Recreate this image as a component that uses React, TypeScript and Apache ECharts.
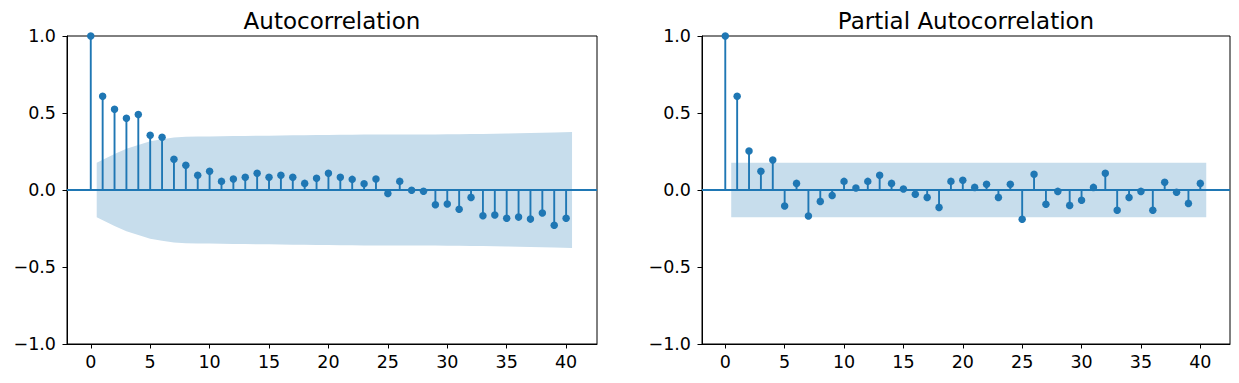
import React, { useEffect, useRef } from "react";
import * as echarts from "echarts";

const lags = [
  0, 1, 2, 3, 4, 5, 6, 7, 8, 9, 10, 11, 12, 13, 14, 15, 16, 17, 18, 19, 20,
  21, 22, 23, 24, 25, 26, 27, 28, 29, 30, 31, 32, 33, 34, 35, 36, 37, 38, 39, 40,
];

const acfValues = [
  1.0, 0.608, 0.524, 0.466, 0.49, 0.355, 0.342, 0.199, 0.16, 0.095, 0.121,
  0.056, 0.071, 0.082, 0.108, 0.082, 0.095, 0.082, 0.043, 0.076, 0.108,
  0.082, 0.069, 0.041, 0.071, -0.022, 0.056, -0.002, -0.008, -0.096, -0.091,
  -0.125, -0.048, -0.167, -0.162, -0.183, -0.176, -0.189, -0.149, -0.229, -0.184,
];

// confidence half-width for lags 1..40
const acfBand = [
  0.177, 0.234, 0.268, 0.293, 0.317, 0.33, 0.341, 0.345, 0.347, 0.348, 0.349,
  0.35, 0.351, 0.352, 0.353, 0.354, 0.355, 0.356, 0.357, 0.357, 0.358, 0.359,
  0.36, 0.36, 0.361, 0.361, 0.361, 0.361, 0.361, 0.362, 0.362, 0.363, 0.363,
  0.365, 0.367, 0.369, 0.37, 0.372, 0.374, 0.377,
];

const pacfValues = [
  1.0, 0.608, 0.253, 0.121, 0.195, -0.104, 0.043, -0.169, -0.074, -0.035,
  0.056, 0.013, 0.056, 0.095, 0.043, 0.006, -0.028, -0.048, -0.113, 0.056,
  0.063, 0.017, 0.037, -0.048, 0.037, -0.19, 0.102, -0.093, -0.009, -0.1,
  -0.067, 0.017, 0.108, -0.132, -0.048, -0.009, -0.132, 0.05, -0.015, -0.087, 0.043,
];

const pacfBand = [
  0.177, 0.177, 0.177, 0.177, 0.177, 0.177, 0.177, 0.177, 0.177, 0.177,
  0.177, 0.177, 0.177, 0.177, 0.177, 0.177, 0.177, 0.177, 0.177, 0.177,
  0.177, 0.177, 0.177, 0.177, 0.177, 0.177, 0.177, 0.177, 0.177, 0.177,
  0.177, 0.177, 0.177, 0.177, 0.177, 0.177, 0.177, 0.177, 0.177, 0.177,
];

const xTickValues = [0, 5, 10, 15, 20, 25, 30, 35, 40];
const yTickValues = [-1, -0.5, 0, 0.5, 1];
const titles = ["Autocorrelation", "Partial Autocorrelation"];

const BLUE = "#1f77b4";
const BAND = "#c7ddec";
const FONT = "DejaVu Sans";

function bandX(): number[] {
  const xs = lags.slice(1).map((v) => v);
  xs[0] -= 0.5;
  xs[xs.length - 1] += 0.5;
  return xs;
}

export default function App() {
  const ref = useRef<HTMLDivElement>(null);

  useEffect(() => {
    if (!ref.current) return;
    const chart = echarts.init(ref.current, undefined, { renderer: "svg" });

    const grids = [
      { left: 67, top: 36, width: 530, height: 308 },
      { left: 702, top: 36, width: 528, height: 308 },
    ];
    const xRanges = [
      [-2.0, 42.6],
      [-1.96, 42.5],
    ];
    const datasets = [
      { values: acfValues, band: acfBand },
      { values: pacfValues, band: pacfBand },
    ];
    const bx = bandX();

    const xAxis: any[] = [];
    const yAxis: any[] = [];
    const series: any[] = [];

    [0, 1].forEach((i) => {
      xAxis.push({
        type: "value",
        gridIndex: i,
        min: xRanges[i][0],
        max: xRanges[i][1],
        axisLine: { show: true, onZero: false, lineStyle: { color: "#000", width: 1 } },
        axisTick: {
          show: true,
          length: 4.5,
          lineStyle: { color: "#000", width: 1 },
          customValues: xTickValues,
        },
        axisLabel: {
          show: true,
          customValues: xTickValues,
          color: "#000",
          fontSize: 17.5,
          fontFamily: FONT,
          margin: 9,
        },
        splitLine: { show: false },
      });
      yAxis.push({
        type: "value",
        gridIndex: i,
        min: yTickValues[0],
        max: yTickValues[yTickValues.length - 1],
        interval: 0.5,
        axisLine: { show: true, onZero: false, lineStyle: { color: "#000", width: 1 } },
        axisTick: { show: true, length: 4.5, lineStyle: { color: "#000", width: 1 } },
        axisLabel: {
          show: true,
          color: "#000",
          fontSize: 17.5,
          fontFamily: FONT,
          margin: 11,
          formatter: (v: number) => v.toFixed(1).replace("-", "\u2212"),
        },
        splitLine: { show: false },
      });

      const d = datasets[i];
      // confidence band
      series.push({
        type: "custom",
        xAxisIndex: i,
        yAxisIndex: i,
        silent: true,
        z: 1,
        data: [[bx[0], 0]],
        renderItem: (params: any, api: any) => {
          const pts: number[][] = [];
          for (let k = 0; k < bx.length; k++) pts.push(api.coord([bx[k], d.band[k]]));
          for (let k = bx.length - 1; k >= 0; k--) pts.push(api.coord([bx[k], -d.band[k]]));
          return {
            type: "polygon",
            shape: { points: pts },
            style: { fill: BAND, stroke: "none" },
          };
        },
      });
      // stems
      series.push({
        type: "custom",
        xAxisIndex: i,
        yAxisIndex: i,
        silent: true,
        z: 2,
        clip: true,
        data: lags.map((l, k) => [l, d.values[k]]),
        renderItem: (params: any, api: any) => {
          const x = api.value(0);
          const y = api.value(1);
          const p0 = api.coord([x, 0]);
          const p1 = api.coord([x, y]);
          return {
            type: "line",
            shape: { x1: p0[0], y1: p0[1], x2: p1[0], y2: p1[1] },
            style: { stroke: BLUE, lineWidth: 1.9 },
          };
        },
      });
      // markers + zero line
      series.push({
        type: "scatter",
        xAxisIndex: i,
        yAxisIndex: i,
        silent: true,
        z: 3,
        clip: true,
        symbol: "circle",
        symbolSize: 7.5,
        itemStyle: { color: BLUE, opacity: 1 },
        data: lags.map((l, k) => [l, d.values[k]]),
        markLine: {
          silent: true,
          symbol: ["none", "none"],
          label: { show: false },
          lineStyle: { color: BLUE, width: 1.9, type: "solid" },
          data: [{ yAxis: 0 }],
          animation: false,
        },
      });
    });

    chart.setOption({
      animation: false,
      grid: grids.map((g) => ({
        ...g,
        show: true,
        borderColor: "#000",
        borderWidth: 1,
        backgroundColor: "transparent",
        containLabel: false,
      })),
      xAxis,
      yAxis,
      series,
      graphic: [
        {
          type: "text",
          x: 332,
          y: 21,
          style: {
            text: titles[0],
            fontSize: 23,
            fontFamily: FONT,
            fill: "#000",
            textAlign: "center",
            textVerticalAlign: "middle",
          },
        },
        {
          type: "text",
          x: 966,
          y: 21,
          style: {
            text: titles[1],
            fontSize: 23,
            fontFamily: FONT,
            fill: "#000",
            textAlign: "center",
            textVerticalAlign: "middle",
          },
        },
      ],
    });

    return () => chart.dispose();
  }, []);

  return (
    <div
      ref={ref}
      style={{ position: "fixed", left: 0, top: 0, width: 1239, height: 383, background: "#fff" }}
    />
  );
}
